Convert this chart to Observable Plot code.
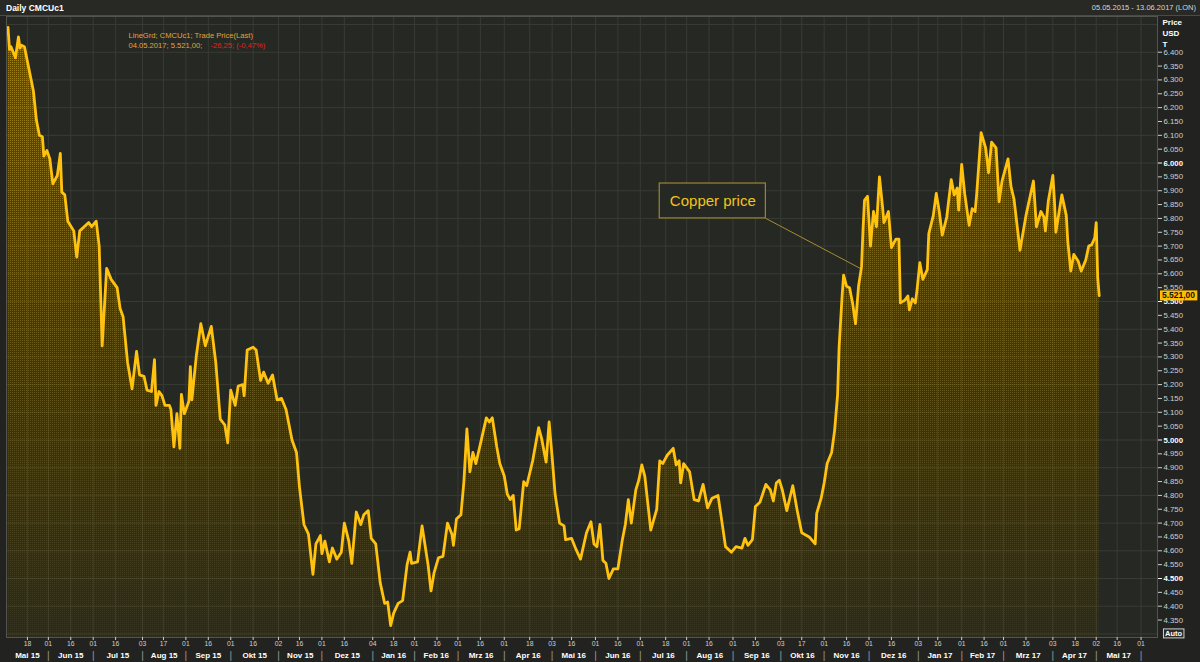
<!DOCTYPE html>
<html><head><meta charset="utf-8">
<script src="https://cdn.jsdelivr.net/npm/d3@7"></script>
<script src="https://cdn.jsdelivr.net/npm/@observablehq/plot@0.6"></script>
<style>
html,body{margin:0;padding:0;background:#222320;width:1200px;height:662px;overflow:hidden;}
#header{height:16px;display:flex;justify-content:space-between;align-items:center;padding:0 4px 0 6px;background:#282925;border-bottom:1px solid #4a4b46;box-sizing:border-box;font-family:"Liberation Sans",Arial,sans-serif;}
#title{color:#fff;font-weight:bold;font-size:8.5px}
#range{color:#d6d6d6;font-size:7.5px}
#chart svg{display:block;overflow:visible}
</style></head><body>
<div id="header"><span id="title">Daily CMCUc1</span><span id="range">05.05.2015 - 13.06.2017 (LON)</span></div>
<div id="chart"></div>
<script>
const dates = [
"2015-05-05","2015-05-06","2015-05-07","2015-05-10","2015-05-12","2015-05-13","2015-05-14","2015-05-16","2015-05-19","2015-05-22","2015-05-24","2015-05-26","2015-05-28","2015-05-29","2015-05-31",
"2015-06-02","2015-06-04","2015-06-07","2015-06-09","2015-06-10","2015-06-12","2015-06-14","2015-06-18","2015-06-20","2015-06-22","2015-06-28","2015-06-30",
"2015-07-03","2015-07-05","2015-07-07","2015-07-10","2015-07-13","2015-07-17","2015-07-19","2015-07-21","2015-07-24","2015-07-27","2015-07-30",
"2015-08-01","2015-08-04","2015-08-06","2015-08-09","2015-08-11","2015-08-12","2015-08-14","2015-08-16","2015-08-18","2015-08-21","2015-08-22","2015-08-24","2015-08-26","2015-08-28","2015-08-29","2015-08-31",
"2015-09-03","2015-09-04","2015-09-05","2015-09-08","2015-09-11","2015-09-14","2015-09-18","2015-09-21","2015-09-24","2015-09-27","2015-09-29",
"2015-10-01","2015-10-04","2015-10-06","2015-10-09","2015-10-10","2015-10-12","2015-10-16","2015-10-18","2015-10-21","2015-10-23","2015-10-26","2015-10-29",
"2015-11-01","2015-11-04","2015-11-07","2015-11-11","2015-11-14","2015-11-16","2015-11-19","2015-11-22","2015-11-25","2015-11-27","2015-11-30",
"2015-12-01","2015-12-03","2015-12-06","2015-12-08","2015-12-11","2015-12-14","2015-12-16","2015-12-19","2015-12-21","2015-12-24","2015-12-27","2015-12-29",
"2016-01-01","2016-01-03","2016-01-06","2016-01-09","2016-01-12","2016-01-14","2016-01-16","2016-01-18","2016-01-21","2016-01-24","2016-01-27","2016-01-29","2016-01-30",
"2016-02-03","2016-02-06","2016-02-08","2016-02-10","2016-02-12","2016-02-14","2016-02-17","2016-02-20","2016-02-23","2016-02-26","2016-02-27","2016-02-29",
"2016-03-03","2016-03-05","2016-03-07","2016-03-09","2016-03-11","2016-03-13","2016-03-16","2016-03-20","2016-03-22","2016-03-24","2016-03-27","2016-03-29",
"2016-04-01","2016-04-03","2016-04-05","2016-04-07","2016-04-09","2016-04-11","2016-04-14","2016-04-16","2016-04-20","2016-04-24","2016-04-26","2016-04-29",
"2016-05-01","2016-05-03","2016-05-05","2016-05-08","2016-05-11","2016-05-12","2016-05-16","2016-05-19","2016-05-22","2016-05-26","2016-05-29","2016-05-31",
"2016-06-02","2016-06-04","2016-06-06","2016-06-08","2016-06-10","2016-06-13","2016-06-16","2016-06-19","2016-06-21","2016-06-23","2016-06-25","2016-06-28","2016-06-30",
"2016-07-02","2016-07-04","2016-07-08","2016-07-12","2016-07-14","2016-07-16","2016-07-19","2016-07-23","2016-07-25","2016-07-27","2016-07-28","2016-07-30",
"2016-08-03","2016-08-06","2016-08-09","2016-08-12","2016-08-15","2016-08-18","2016-08-22","2016-08-25","2016-08-27","2016-08-31",
"2016-09-03","2016-09-07","2016-09-09","2016-09-11","2016-09-14","2016-09-16","2016-09-19","2016-09-23","2016-09-26","2016-09-28","2016-09-30",
"2016-10-02","2016-10-04","2016-10-07","2016-10-11","2016-10-14","2016-10-17","2016-10-22","2016-10-26","2016-10-27","2016-10-30",
"2016-11-01","2016-11-03","2016-11-06","2016-11-08","2016-11-10","2016-11-11","2016-11-13","2016-11-14","2016-11-16","2016-11-18","2016-11-20","2016-11-22","2016-11-24","2016-11-26","2016-11-27","2016-11-28","2016-11-30",
"2016-12-02","2016-12-04","2016-12-06","2016-12-08","2016-12-10","2016-12-11","2016-12-14","2016-12-16","2016-12-19","2016-12-21","2016-12-22","2016-12-25","2016-12-27","2016-12-28","2016-12-30",
"2017-01-01","2017-01-02","2017-01-04","2017-01-06","2017-01-09","2017-01-10","2017-01-13","2017-01-15","2017-01-17","2017-01-19","2017-01-22","2017-01-25","2017-01-27","2017-01-29","2017-01-30",
"2017-02-01","2017-02-03","2017-02-06","2017-02-08","2017-02-10","2017-02-11","2017-02-14","2017-02-17","2017-02-19","2017-02-21","2017-02-24","2017-02-26","2017-02-28",
"2017-03-04","2017-03-06","2017-03-08","2017-03-12","2017-03-16","2017-03-21","2017-03-23","2017-03-26","2017-03-28","2017-03-29","2017-03-31",
"2017-04-03","2017-04-04","2017-04-05","2017-04-09","2017-04-12","2017-04-13","2017-04-15","2017-04-17","2017-04-20","2017-04-22","2017-04-25","2017-04-27","2017-04-29",
"2017-05-01","2017-05-02","2017-05-03","2017-05-04"
];
const prices = [
6490,6410,6420,6380,6455,6415,6425,6420,6340,6260,6155,6100,6095,6025,6045,
6015,5925,5955,6035,5895,5885,5790,5755,5660,5755,5785,5770,
5790,5700,5340,5620,5580,5550,5475,5445,5280,5185,5320,
5235,5230,5180,5175,5290,5125,5175,5160,5125,5125,5110,4975,5095,4970,5165,5095,
5140,5265,5145,5305,5420,5340,5410,5280,5075,5055,4990,
5180,5125,5195,5200,5160,5325,5335,5325,5215,5245,5205,5235,
5145,5150,5110,5000,4955,4830,4695,4660,4515,4625,4655,
4590,4635,4560,4610,4570,4595,4700,4635,4555,4740,4695,4730,
4745,4645,4625,4485,4410,4415,4330,4375,4410,4420,4550,4595,4555,
4560,4690,4620,4550,4455,4520,4575,4580,4700,4660,4620,4715,
4730,4850,5040,4885,4955,4915,4985,5080,5065,5080,4975,4915,
4870,4805,4785,4800,4675,4680,4850,4835,4925,5045,5005,4920,
5065,4940,4805,4700,4690,4640,4645,4605,4570,4665,4705,4625,
4615,4695,4565,4555,4500,4535,4535,4640,4695,4785,4700,4820,4855,
4910,4870,4675,4750,4925,4915,4945,4970,4910,4925,4845,4915,
4885,4785,4780,4840,4755,4790,4800,4690,4615,4595,
4615,4610,4645,4620,4640,4760,4775,4840,4820,4780,4845,
4855,4820,4745,4835,4745,4665,4650,4625,4735,4790,
4845,4915,4955,5035,5165,5335,5520,5595,5555,5550,5495,5420,5555,5625,5760,5865,5880,
5700,5825,5770,5950,5845,5785,5825,5695,5725,5725,5495,5505,5520,5470,5510,
5495,5535,5640,5580,5615,5745,5810,5890,5825,5740,5805,5940,5885,5910,5830,
5995,5890,5775,5835,5825,5885,6110,6055,5965,6075,6055,5860,5935,
6015,5915,5870,5685,5810,5935,5770,5825,5805,5755,5865,
5955,5870,5750,5885,5810,5715,5610,5670,5645,5610,5650,5700,5705,
5730,5785,5585,5521
];
const tickDays = ["2015-05-18","2015-06-01","2015-06-16","2015-07-01","2015-07-16","2015-08-03","2015-08-17","2015-09-01","2015-09-16","2015-10-01","2015-10-16","2015-11-02","2015-11-16","2015-12-01","2015-12-16","2016-01-04","2016-01-18","2016-02-01","2016-02-16","2016-03-01","2016-03-16","2016-04-01","2016-04-18","2016-05-03","2016-05-16","2016-06-01","2016-06-16","2016-07-01","2016-07-18","2016-08-01","2016-08-16","2016-09-01","2016-09-16","2016-10-03","2016-10-17","2016-11-01","2016-11-16","2016-12-01","2016-12-16","2017-01-03","2017-01-16","2017-02-01","2017-02-16","2017-03-01","2017-03-16","2017-04-03","2017-04-18","2017-05-02","2017-05-16","2017-06-01"];
const monthNames = ["Mai 15","Jun 15","Jul 15","Aug 15","Sep 15","Okt 15","Nov 15","Dez 15","Jan 16","Feb 16","Mrz 16","Apr 16","Mai 16","Jun 16","Jul 16","Aug 16","Sep 16","Okt 16","Nov 16","Dez 16","Jan 17","Feb 17","Mrz 17","Apr 17","Mai 17"];
const yTickValues = [4350,4400,4450,4500,4550,4600,4650,4700,4750,4800,4850,4900,4950,5000,5050,5100,5150,5200,5250,5300,5350,5400,5450,5500,5550,5600,5650,5700,5750,5800,5850,5900,5950,6000,6050,6100,6150,6200,6250,6300,6350,6400];
const yGridValues = [4300,4400,4500,4600,4700,4800,4900,5000,5100,5200,5300,5400,5500,5600,5700,5800,5900,6000,6100,6200,6300,6400,6500];
const xDomainDays = ["2015-05-04","2017-06-12"];
const yDomain = [4287, 6529];
const legendSeries = "LineGrd; CMCUc1; Trade Price(Last)";
const lastDateLabel = "04.05.2017";
const lastChange = -26.25;
const lastChangePct = -0.47;
const annotationLabels = ["Copper price"];
const annotationBoxStart = ["2016-07-14"];
const annotationBoxEnd = ["2016-09-23"];
const annotationBoxLow = [5800];
const annotationBoxHigh = [5926];
const annotationTargetDate = ["2016-11-25"];
const annotationTargetPrice = [5620];

const de = d3.formatLocale({decimal: ",", thousands: ".", grouping: [3], currency: ["", ""], minus: "-"});
const fmt0 = de.format(",.0f"), fmt2 = de.format(",.2f");

const data = dates.map((d, i) => ({date: new Date(d), price: prices[i]}));
const last = data[data.length - 1];
const tickDates = tickDays.map(d => new Date(d));
const xDomain = xDomainDays.map(d => new Date(d));
const monthStarts = tickDates.filter(d => d.getUTCDate() <= 4);
const bounds = [xDomain[0], ...monthStarts];
const monthData = monthNames.map((m, i) => ({label: m, date: new Date((bounds[i].getTime() + bounds[i + 1].getTime()) / 2)}));
const annotations = annotationLabels.map((l, i) => ({
  label: l,
  x1: new Date(annotationBoxStart[i]), x2: new Date(annotationBoxEnd[i]),
  y1: annotationBoxLow[i], y2: annotationBoxHigh[i],
  cx: new Date((new Date(annotationBoxStart[i]).getTime() + new Date(annotationBoxEnd[i]).getTime()) / 2),
  cy: (annotationBoxLow[i] + annotationBoxHigh[i]) / 2,
  tx: new Date(annotationTargetDate[i]), ty: annotationTargetPrice[i]
}));

const grid = "#393b35";
const plotHeight = 646, mBottom = 25;
const chart = Plot.plot({
  width: 1200, height: plotHeight,
  marginTop: 0, marginBottom: mBottom, marginLeft: 6, marginRight: 43,
  style: {background: "transparent", fontFamily: "'Liberation Sans', Arial, sans-serif", overflow: "visible"},
  x: {type: "utc", domain: xDomain, label: null},
  y: {domain: yDomain, label: null},
  marks: [
    Plot.frame({fill: "#262823", stroke: null}),
    Plot.ruleY(yGridValues, {stroke: grid, strokeWidth: 1}),
    Plot.ruleX(tickDates, {stroke: grid, strokeWidth: 1}),
    Plot.areaY(data, {x: "date", y1: yDomain[0], y2: "price", fill: "url(#areaGrad)"}),
    Plot.areaY(data, {x: "date", y1: yDomain[0], y2: "price", fill: "url(#areaDots)"}),
    Plot.line(data, {x: "date", y: "price", stroke: "#FFC20F", strokeWidth: 2.8, strokeLinejoin: "round"}),
    Plot.link(annotations, {x1: "x2", y1: "y1", x2: "tx", y2: "ty", stroke: "#a68e32", strokeWidth: 1}),
    Plot.rect(annotations, {x1: "x1", x2: "x2", y1: "y1", y2: "y2", fill: "#262823", stroke: "#9c8630", strokeWidth: 1.2}),
    Plot.text(annotations, {x: "cx", y: "cy", text: "label", fontSize: 15, fill: "#F3C41A"}),
    Plot.frame({stroke: "#53544f"}),
    Plot.axisY(yTickValues.filter(v => v % 500 !== 0), {anchor: "right", tickSize: 4, tickPadding: 2, tickFormat: fmt0, fontSize: 7.8, color: "#cfcfcf", label: null}),
    Plot.axisY(yTickValues.filter(v => v % 500 === 0), {anchor: "right", tickSize: 4, tickPadding: 2, tickFormat: fmt0, fontSize: 7.8, fontWeight: "bold", color: "#ffffff", label: null}),
    Plot.axisX(tickDates, {tickFormat: d3.utcFormat("%d"), tickSize: 3, tickPadding: 1, fontSize: 6.8, color: "#cfcfcf", label: null}),
    Plot.text(monthData, {x: "date", text: "label", frameAnchor: "bottom", dy: 18, lineAnchor: "middle", fontWeight: "bold", fontSize: 8, fill: "#ffffff"}),
    Plot.text(monthStarts, {x: d => d, text: () => "|", frameAnchor: "bottom", dy: 18, lineAnchor: "middle", fontSize: 10, fill: "#9a9a9a"}),
    Plot.text(["Price\nUSD\nT"], {text: d => d, frameAnchor: "top-right", dx: 5, dy: 1, textAnchor: "start", lineAnchor: "top", fontWeight: "bold", fontSize: 8, lineHeight: 1.375, fill: "#ffffff"}),
    Plot.text([legendSeries], {text: d => d, frameAnchor: "top-left", dx: 122, dy: 19, textAnchor: "start", lineAnchor: "middle", fontSize: 7.6, fill: "#e5a33a"}),
    Plot.text([`${lastDateLabel}; ${fmt2(last.price)}; `], {text: d => d, frameAnchor: "top-left", dx: 122, dy: 29, textAnchor: "start", lineAnchor: "middle", fontSize: 7.6, fill: "#e5a33a"}),
    Plot.text([`${fmt2(lastChange)}; (${fmt2(lastChangePct)}%)`], {text: d => d, frameAnchor: "top-left", dx: 204, dy: 29, textAnchor: "start", lineAnchor: "middle", fontSize: 7.6, fill: "#e0261c"}),
    Plot.text([last], {y: "price", text: d => fmt2(d.price), frameAnchor: "right", dx: 21, textAnchor: "middle", lineAnchor: "middle", fontWeight: "bold", fontSize: 8.5, fill: "#1a1400"}),
    Plot.text(["Auto"], {text: d => d, frameAnchor: "bottom-right", dx: 16, dy: -4, textAnchor: "middle", lineAnchor: "middle", fontWeight: "bold", fontSize: 7.5, fill: "#ffffff"})
  ]
});

// halftone texture: dot opacity fades from the top of the frame to its bottom
const ns = "http://www.w3.org/2000/svg";
const frameH = plotHeight - mBottom;
let dotRects = "";
for (let yy = 0; yy < frameH; yy += 2) {
  const op = (0.46 - 0.40 * yy / frameH).toFixed(3);
  dotRects += `<rect x="0" y="${yy}" width="1" height="1" fill="#ffc800" fill-opacity="${op}"/>`;
}
const defs = document.createElementNS(ns, "defs");
defs.innerHTML = `
<linearGradient id="areaGrad" gradientUnits="userSpaceOnUse" x1="0" y1="0" x2="0" y2="${frameH}">
  <stop offset="0" stop-color="#d0a41e" stop-opacity="0.30"/>
  <stop offset="0.45" stop-color="#c09a26" stop-opacity="0.15"/>
  <stop offset="1" stop-color="#8c7c34" stop-opacity="0.02"/>
</linearGradient>
<pattern id="areaDots" x="0" y="0" width="2" height="${frameH}" patternUnits="userSpaceOnUse">${dotRects}</pattern>`;
chart.prepend(defs);
document.getElementById("chart").append(chart);

function boxText(str, padX, padY, fill, stroke) {
  for (const t of chart.querySelectorAll("text")) {
    if (t.textContent === str) {
      const b = t.getBBox();
      const r = document.createElementNS(ns, "rect");
      r.setAttribute("x", b.x - padX);
      r.setAttribute("y", b.y - padY);
      r.setAttribute("width", b.width + 2 * padX);
      r.setAttribute("height", b.height + 2 * padY);
      r.setAttribute("fill", fill);
      if (stroke) { r.setAttribute("stroke", stroke); r.setAttribute("stroke-width", 1); }
      const tr = t.getAttribute("transform");
      if (tr) r.setAttribute("transform", tr);
      t.parentNode.insertBefore(r, t);
    }
  }
}
boxText(fmt2(last.price), 2, 0, "#FFC000");
boxText("Auto", 1.5, 0, "#2a2b28", "#d0d0d0");
</script>
</body></html>
